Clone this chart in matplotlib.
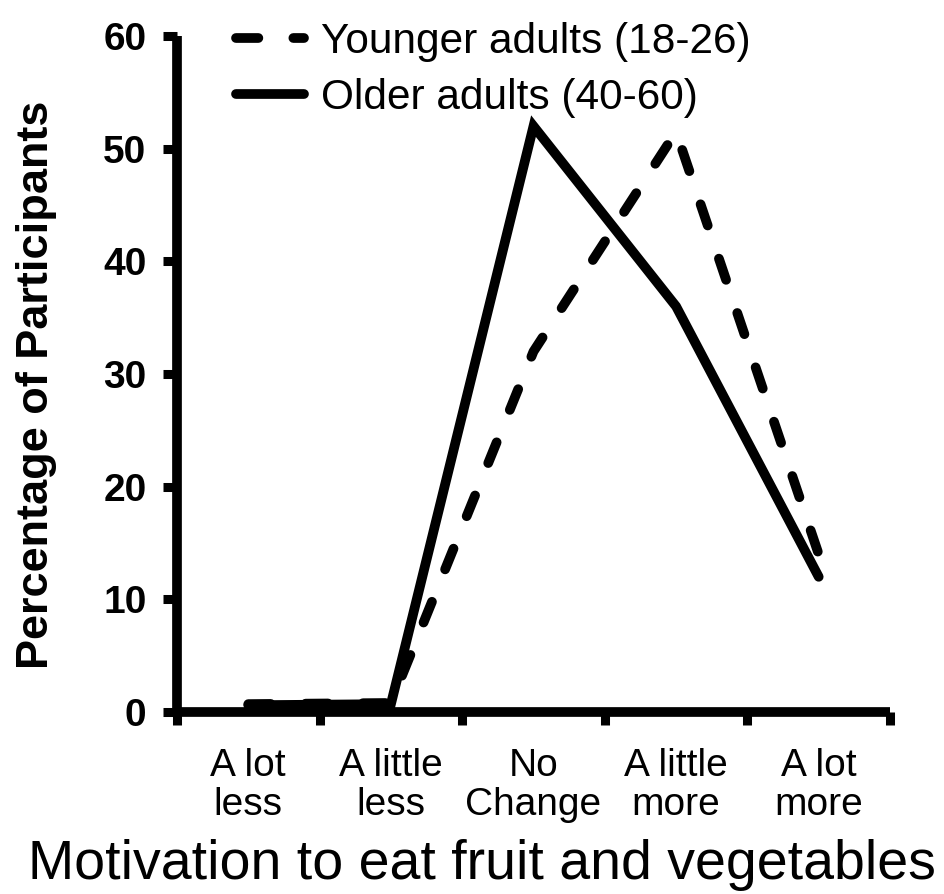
import matplotlib
matplotlib.use("Agg")
import matplotlib.pyplot as plt
import numpy as np

categories = ["A lot\nless", "A little\nless", "No\nChange", "A little\nmore", "A lot\nmore"]
younger = [0.7, 0.8, 32.0, 51.5, 14.0]
older = [0.6, 0.7, 52.0, 36.0, 12.0]
y_ticks = [0, 10, 20, 30, 40, 50, 60]

plt.rcParams['font.family'] = ['Liberation Sans', 'DejaVu Sans']

W, H = 945, 894
fig = plt.figure(figsize=(W / 100, H / 100), dpi=100)
left, right, bottom, top = 177, 890, 712, 36
ax = fig.add_axes([left / W, 1 - bottom / H, (right - left) / W, (bottom - top) / H])

x = np.arange(len(categories))
lw = 7.0
ly, = ax.plot(x, younger, color='black', lw=lw, linestyle=(0, (2.3, 3.6)),
              dash_capstyle='round', solid_capstyle='round', label='Younger adults (18-26)')
lo, = ax.plot(x, older, color='black', lw=lw, solid_capstyle='round',
              solid_joinstyle='miter', label='Older adults (40-60)')

ax.set_xlim(-0.5, 4.5)
ax.set_ylim(0, 60)
ax.set_yticks(y_ticks)
ax.set_yticklabels([str(v) for v in y_ticks], fontsize=28, fontweight='bold')
ax.set_xticks(x)
ax.set_xticklabels(categories, fontsize=28, linespacing=1.12)
ax.tick_params(axis='x', length=0, pad=26)
ax.set_xticks(np.arange(-0.5, 5.0, 1.0), minor=True)
ax.tick_params(axis='x', which='minor', length=9.5, width=6.5, direction='out')
ax.tick_params(axis='y', length=10, width=6.5, direction='out', pad=12)

for s in ['top', 'right']:
    ax.spines[s].set_visible(False)
for s in ['left', 'bottom']:
    ax.spines[s].set_linewidth(7)
    ax.spines[s].set_capstyle('butt')

fig.text(37 / W, 1 - 385 / H, 'Percentage of Participants', fontsize=32.5, fontweight='bold',
         rotation=90, ha='center', va='center')
fig.text(482 / W, 1 - 879 / H, 'Motivation to eat fruit and vegetables', fontsize=40,
         ha='center', va='baseline')

leg = fig.legend(handles=[ly, lo], loc='upper left', bbox_to_anchor=(236 / W, 1 - 22 / H),
                 frameon=False, fontsize=30.5, handlelength=1.6, handletextpad=0.4,
                 labelspacing=0.37, borderaxespad=0, borderpad=0)

fig.savefig('out.png', dpi=100)
